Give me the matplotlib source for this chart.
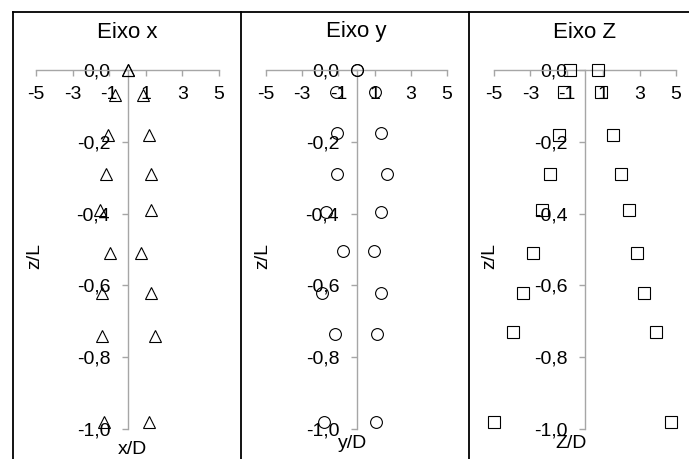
import matplotlib
matplotlib.use("Agg")
import matplotlib.pyplot as plt
from matplotlib.lines import Line2D
from matplotlib.ticker import FuncFormatter

plt.rcParams['font.family'] = ['Liberation Sans', 'DejaVu Sans']
plt.rcParams['axes.unicode_minus'] = False

# z/L levels of the measurement points
z_x = [0, -0.07, -0.18, -0.29, -0.39, -0.51, -0.62, -0.74, -0.98]
z_y = [0, -0.06, -0.175, -0.29, -0.395, -0.505, -0.62, -0.735, -0.98]
z_z = [0, -0.06, -0.18, -0.29, -0.39, -0.51, -0.62, -0.73, -0.98]

# x/D, y/D, Z/D on both sides of the centre line
x_left = [0, -0.71, -1.09, -1.2, -1.53, -0.98, -1.42, -1.37, -1.26]
x_right = [0, 0.82, 1.2, 1.3, 1.3, 0.76, 1.3, 1.48, 1.2]
y_left = [0, -1.16, -1.1, -1.1, -1.71, -0.72, -1.93, -1.21, -1.77]
y_right = [0, 1.0, 1.33, 1.66, 1.38, 0.94, 1.33, 1.16, 1.1]
zz_left = [-0.82, -1.15, -1.43, -1.92, -2.36, -2.86, -3.41, -3.96, -5.0]
zz_right = [0.71, 0.88, 1.54, 1.98, 2.42, 2.86, 3.24, 3.9, 4.73]

titles = ['Eixo x', 'Eixo y', 'Eixo Z']
xlabels = ['x/D', 'y/D', 'Z/D']
x_ticks = [-5, -3, -1, 1, 3, 5]
z_ticks = [0, -0.2, -0.4, -0.6, -0.8, -1.0]

W, H = 689, 459
fig = plt.figure(figsize=(W / 100, H / 100), dpi=100)

# axes spans in pixels: (x of -5, x of 5)
spans = [(36, 219), (266, 447), (494, 676)]
top_px, bot_px = 70, 429
xlab_pos = [(132, 449), (353, 444), (571, 444)]
ylab_x = [35, 263, 490]

panels = [
    (z_x, x_left, x_right, '^', 9),
    (z_y, y_left, y_right, 'o', 8.5),
    (z_z, zz_left, zz_right, 's', 8),
]

axis_grey = '#a6a6a6'
fmt = FuncFormatter(lambda v, p: f'{v:.1f}'.replace('.', ','))

for i, (z, left, right, mk, ms) in enumerate(panels):
    x0, x1 = spans[i]
    ax = fig.add_axes([x0 / W, (H - bot_px) / H, (x1 - x0) / W, (bot_px - top_px) / H])
    ax.set_xlim(-5, 5)
    ax.set_ylim(-1, 0)
    ax.patch.set_visible(False)
    for s in ['top', 'right']:
        ax.spines[s].set_visible(False)
    ax.spines['bottom'].set_position(('data', 0))
    ax.spines['left'].set_position(('data', 0))
    for s in ['bottom', 'left']:
        ax.spines[s].set_color(axis_grey)
        ax.spines[s].set_linewidth(1.0)
    ax.set_xticks(x_ticks)
    ax.set_yticks(z_ticks)
    ax.yaxis.set_major_formatter(fmt)
    ax.tick_params(axis='both', direction='out', length=4.5, width=1.0,
                   color=axis_grey, labelsize=14, labelcolor='black')
    ax.tick_params(axis='x', pad=7)
    ax.tick_params(axis='y', pad=8)

    ax.plot(left, z, linestyle='none', marker=mk, ms=ms, mfc='none',
            mec='black', mew=0.8, clip_on=False, zorder=5)
    ax.plot(right, z, linestyle='none', marker=mk, ms=ms, mfc='none',
            mec='black', mew=0.8, clip_on=False, zorder=5)

    fig.text((x0 + x1) / 2 / W, 1 - 32 / H, titles[i], ha='center', va='center', fontsize=16)
    fig.text(xlab_pos[i][0] / W, 1 - xlab_pos[i][1] / H, xlabels[i],
             ha='center', va='center', fontsize=14)
    fig.text(ylab_x[i] / W, 1 - 256 / H, 'z/L', rotation=90,
             ha='center', va='center', fontsize=14)

# panel frame lines
frame = [((12.5, 12.5), (11.5, H)), ((12.5, W), (11.5, 11.5)),
         ((241, 241), (11.5, H)), ((469, 469), (11.5, H))]
for xs, ys in frame:
    fig.add_artist(Line2D([x / W for x in xs], [1 - y / H for y in ys],
                          color='black', lw=1.3, transform=fig.transFigure))

fig.savefig('out.png', dpi=100)
